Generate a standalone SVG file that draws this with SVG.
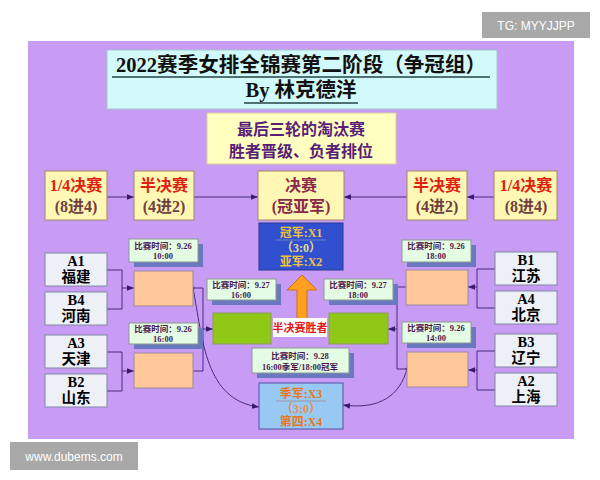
<svg xmlns="http://www.w3.org/2000/svg" width="600" height="480" viewBox="0 0 600 480">
<defs>
<style>
.cj{font-family:"Liberation Serif","Noto Sans CJK SC",serif;font-weight:bold}
.hb{fill:#fff8b4;stroke:#a08868;stroke-width:1}
.tb{fill:#eef0f8;stroke:#8088a0;stroke-width:1}
.ob{fill:#ffc898;stroke:#9a8aa0;stroke-width:1}
.gb{fill:#90c818;stroke:#8a9a60;stroke-width:1}
.lb{fill:#e4fce4;stroke:#8a9a90;stroke-width:1}
.sh{fill:#6a78c0}
.ln{fill:none;stroke:#4a2a7a;stroke-width:1}
.tt{font-size:14.5px;fill:#000;text-anchor:middle}
.ht{font-size:16px;text-anchor:middle}
.lt{font-size:8.5px;fill:#4a1850;text-anchor:middle}
</style>
<marker id="ar" viewBox="0 0 10 10" refX="10" refY="5" markerWidth="7" markerHeight="7" markerUnits="userSpaceOnUse" orient="auto"><path d="M0,1 L10,5 L0,9 z" fill="#3a1a6a"/></marker>
</defs>
<rect width="600" height="480" fill="#ffffff"/>
<rect x="28" y="41" width="546" height="398" fill="#c89cf4"/>

<g id="wm-tg"><rect x="482" y="12" width="108" height="26" fill="#a8a8a8"/><text x="536" y="30" font-family="Liberation Sans,sans-serif" font-size="12" fill="#fff" text-anchor="middle">TG: MYYJJPP</text></g>
<g id="wm-www"><rect x="10" y="442" width="128" height="28" fill="#a8a8a8"/><text x="74" y="461" font-family="Liberation Sans,sans-serif" font-size="12" fill="#fff" text-anchor="middle">www.dubems.com</text></g>

<g id="title">
<rect x="107" y="50" width="390" height="59" fill="#d2fafa" stroke="#a0c8c8"/>
<text x="301" y="72" class="cj" font-size="20.5" text-anchor="middle" fill="#111" textLength="370" lengthAdjust="spacingAndGlyphs">2022赛季女排全锦赛第二阶段（争冠组）</text>
<line x1="112" y1="77" x2="490" y2="77" stroke="#224444" stroke-width="1.5"/>
<text x="301" y="97" class="cj" font-size="20.5" text-anchor="middle" fill="#111">By 林克德洋</text>
<line x1="244" y1="103" x2="358" y2="103" stroke="#224444" stroke-width="1.5"/>
</g>

<g id="note">
<rect x="207" y="113" width="189" height="51" fill="#ffffc0" stroke="#d8d0a0"/>
<text x="301" y="135" class="cj" font-size="16" fill="#5a1e78" text-anchor="middle">最后三轮的淘汰赛</text>
<text x="301" y="157" class="cj" font-size="16" fill="#5a1e78" text-anchor="middle">胜者晋级、负者排位</text>
</g>

<g id="connectors">
<line x1="107" y1="197" x2="134" y2="197" class="ln" marker-end="url(#ar)"/>
<line x1="194" y1="197" x2="258" y2="197" class="ln" marker-end="url(#ar)"/>
<line x1="407" y1="197" x2="344" y2="197" class="ln" marker-end="url(#ar)"/>
<line x1="494" y1="197" x2="467" y2="197" class="ln" marker-end="url(#ar)"/>
<path d="M107,270 H122 V309 H107" class="ln"/>
<line x1="122" y1="288" x2="134" y2="288" class="ln" marker-end="url(#ar)"/>
<path d="M107,352 H122 V391 H107" class="ln"/>
<line x1="122" y1="371" x2="134" y2="371" class="ln" marker-end="url(#ar)"/>
<path d="M193,288 H203 V371 H193" class="ln"/>
<circle cx="193" cy="288" r="1.6" fill="#3a1a6a"/>
<line x1="203" y1="329" x2="213" y2="329" class="ln" marker-end="url(#ar)"/>
<path d="M495,269 H477 V308 H495" class="ln"/>
<line x1="477" y1="287" x2="468" y2="287" class="ln" marker-end="url(#ar)"/>
<path d="M495,351 H477 V390 H495" class="ln"/>
<line x1="477" y1="370" x2="468" y2="370" class="ln" marker-end="url(#ar)"/>
<path d="M406,287 H397 V369 H407" class="ln"/>
<circle cx="407" cy="369" r="1.6" fill="#3a1a6a"/>
<line x1="397" y1="329" x2="388" y2="329" class="ln" marker-end="url(#ar)"/>
<path d="M193,288 C203,340 205,400 259,407" class="ln" marker-end="url(#ar)"/>
<path d="M407,369 C400,395 380,410 343,405" class="ln" marker-end="url(#ar)"/>
</g>

<g id="h-qf-l"><rect x="45" y="171" width="62" height="49" class="hb"/><text x="76" y="191" class="cj ht" fill="#e02010">1/4决赛</text><text x="76" y="212" class="cj ht" fill="#704040">(8进4)</text></g>
<g id="h-sf-l"><rect x="134" y="171" width="60" height="49" class="hb"/><text x="164" y="191" class="cj ht" fill="#e02010">半决赛</text><text x="164" y="212" class="cj ht" fill="#704040">(4进2)</text></g>
<g id="h-f"><rect x="258" y="171" width="86" height="49" class="hb"/><text x="301" y="191" class="cj ht" fill="#8a2a48">决赛</text><text x="301" y="212" class="cj ht" fill="#8a2a48">(冠亚军)</text></g>
<g id="h-sf-r"><rect x="407" y="171" width="60" height="49" class="hb"/><text x="437" y="191" class="cj ht" fill="#e02010">半决赛</text><text x="437" y="212" class="cj ht" fill="#704040">(4进2)</text></g>
<g id="h-qf-r"><rect x="494" y="171" width="63" height="49" class="hb"/><text x="526" y="191" class="cj ht" fill="#e02010">1/4决赛</text><text x="526" y="212" class="cj ht" fill="#704040">(8进4)</text></g>

<g id="t-a1"><rect x="45" y="253" width="62" height="33" class="tb"/><text x="76" y="266" class="cj tt">A1</text><text x="76" y="282" class="cj tt">福建</text></g>
<g id="t-b4"><rect x="45" y="292" width="62" height="33" class="tb"/><text x="76" y="305" class="cj tt">B4</text><text x="76" y="321" class="cj tt">河南</text></g>
<g id="t-a3"><rect x="45" y="335" width="62" height="33" class="tb"/><text x="76" y="348" class="cj tt">A3</text><text x="76" y="364" class="cj tt">天津</text></g>
<g id="t-b2"><rect x="45" y="374" width="62" height="33" class="tb"/><text x="76" y="387" class="cj tt">B2</text><text x="76" y="403" class="cj tt">山东</text></g>
<g id="t-b1"><rect x="495" y="252" width="62" height="33" class="tb"/><text x="526" y="265" class="cj tt">B1</text><text x="526" y="281" class="cj tt">江苏</text></g>
<g id="t-a4"><rect x="495" y="291" width="62" height="33" class="tb"/><text x="526" y="304" class="cj tt">A4</text><text x="526" y="320" class="cj tt">北京</text></g>
<g id="t-b3"><rect x="495" y="334" width="62" height="33" class="tb"/><text x="526" y="347" class="cj tt">B3</text><text x="526" y="363" class="cj tt">辽宁</text></g>
<g id="t-a2"><rect x="495" y="373" width="62" height="33" class="tb"/><text x="526" y="386" class="cj tt">A2</text><text x="526" y="402" class="cj tt">上海</text></g>

<g id="qf-l1"><rect x="134" y="271" width="59" height="35" class="ob"/></g>
<g id="qf-l2"><rect x="134" y="353" width="59" height="35" class="ob"/></g>
<g id="qf-r1"><rect x="406" y="270" width="62" height="35" class="ob"/></g>
<g id="qf-r2"><rect x="407" y="352" width="61" height="35" class="ob"/></g>
<g id="sf-l"><rect x="213" y="313" width="58" height="31" class="gb"/></g>
<g id="sf-r"><rect x="329" y="313" width="59" height="31" class="gb"/></g>

<g id="lab-l1"><rect x="134" y="244" width="69" height="23" class="sh"/><rect x="129" y="239" width="69" height="23" class="lb"/><text x="163" y="249" class="cj lt">比赛时间：9.26</text><text x="163" y="259" class="cj lt">10:00</text></g>
<g id="lab-l2"><rect x="134" y="328" width="69" height="21" class="sh"/><rect x="129" y="323" width="69" height="21" class="lb"/><text x="163" y="332" class="cj lt">比赛时间：9.26</text><text x="163" y="342" class="cj lt">16:00</text></g>
<g id="lab-r1"><rect x="407" y="245" width="69" height="22" class="sh"/><rect x="402" y="240" width="69" height="22" class="lb"/><text x="436" y="249" class="cj lt">比赛时间：9.26</text><text x="436" y="259" class="cj lt">18:00</text></g>
<g id="lab-r2"><rect x="407" y="327" width="69" height="21" class="sh"/><rect x="402" y="322" width="69" height="21" class="lb"/><text x="436" y="331" class="cj lt">比赛时间：9.26</text><text x="436" y="341" class="cj lt">14:00</text></g>
<g id="lab-sl"><rect x="212" y="284" width="69" height="21" class="sh"/><rect x="207" y="279" width="69" height="21" class="lb"/><text x="241" y="288" class="cj lt">比赛时间：9.27</text><text x="241" y="298" class="cj lt">16:00</text></g>
<g id="lab-sr"><rect x="329" y="284" width="69" height="21" class="sh"/><rect x="324" y="279" width="69" height="21" class="lb"/><text x="358" y="288" class="cj lt">比赛时间：9.27</text><text x="358" y="298" class="cj lt">18:00</text></g>
<g id="lab-f"><rect x="257" y="353" width="97" height="25" class="sh"/><rect x="252" y="348" width="97" height="25" class="lb"/><text x="300" y="359" class="cj lt">比赛时间：9.28</text><text x="300" y="370" class="cj lt">16:00季军/18:00冠军</text></g>

<g id="final"><rect x="259" y="223" width="84" height="47" fill="#3050d0" stroke="#283890"/>
<text x="301" y="237" class="cj" font-size="12" fill="#f0c040" text-anchor="middle">冠军:X1</text>
<line x1="276" y1="240" x2="326" y2="240" stroke="#8090c0" stroke-width="0.8"/>
<text x="301" y="252" class="cj" font-size="12" fill="#e8d890" text-anchor="middle">（3:0）</text>
<text x="301" y="266" class="cj" font-size="12" fill="#f0c040" text-anchor="middle">亚军:X2</text></g>

<g id="winner-arrow"><path d="M297,320 V290 H287 L302,275 L317,290 H307 V320 Z" fill="#ffa020" stroke="#d07010" stroke-width="1"/></g>

<g id="sf-winner"><rect x="273" y="318" width="54" height="19" fill="#ffffff"/><text x="300" y="332" class="cj" font-size="11" fill="#e01818" text-anchor="middle">半决赛胜者</text></g>

<g id="third"><rect x="259" y="383" width="84" height="46" fill="#98c8f4" stroke="#5050a0"/>
<text x="301" y="398" class="cj" font-size="12" fill="#e87820" text-anchor="middle">季军:X3</text>
<line x1="276" y1="401" x2="326" y2="401" stroke="#a08890" stroke-width="0.8"/>
<text x="301" y="413" class="cj" font-size="12" fill="#e89050" text-anchor="middle">（3:0）</text>
<text x="301" y="426" class="cj" font-size="12" fill="#e87820" text-anchor="middle">第四:X4</text></g>
</svg>
